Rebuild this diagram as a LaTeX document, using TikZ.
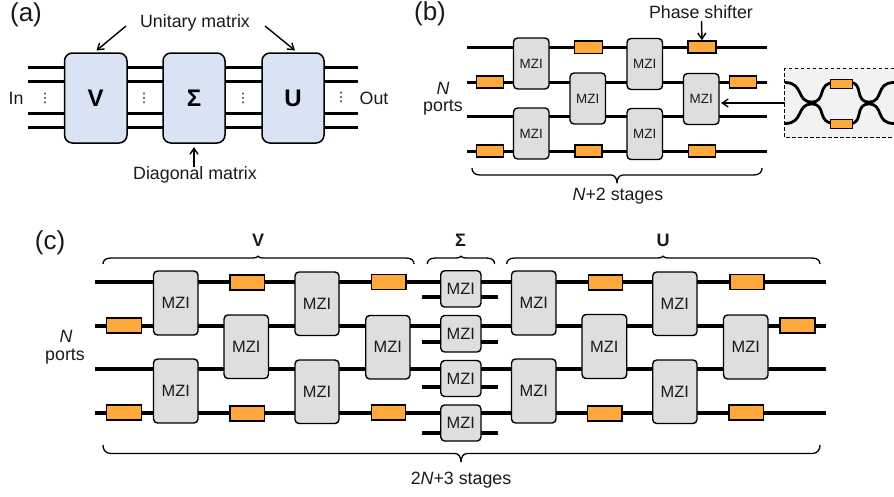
\documentclass[tikz,border=0pt]{standalone}
\usepackage{fontspec}
\setmainfont{Liberation Sans}
\newfontfamily\dvfont{DejaVu Sans}
\usetikzlibrary{arrows.meta}
\definecolor{bluebox}{HTML}{DAE3F3}
\definecolor{greybox}{HTML}{DEDEDE}
\definecolor{psorange}{HTML}{FFA93C}
\definecolor{insetbg}{HTML}{F2F2F2}
\definecolor{ink}{HTML}{1A1A1A}
\tikzset{
  wg/.style={line width=3.8pt,black},
  wgb/.style={line width=3pt,black},
  wgi/.style={line width=2.8pt,black},
  bl/.style={draw=black,line width=1.5pt,fill=bluebox,rounded corners=8pt,inner sep=0pt,text=black},
  mz/.style={draw=black,line width=1.4pt,fill=greybox,rounded corners=4pt,inner sep=0pt,text=ink},
  ps/.style={draw=black,line width=1.5pt,fill=psorange,inner sep=0pt},
  psi/.style={draw=black,line width=1pt,fill=psorange,inner sep=0pt},
  lab/.style={inner sep=0pt,text=ink,font=\fontsize{17.8}{20}\selectfont},
  pan/.style={inner sep=0pt,text=ink,font=\fontsize{26}{28}\selectfont},
  arr/.style={line width=1.4pt,black,-{Straight Barb[length=6pt,width=8pt,line width=1.4pt]}},
  brc/.style={line width=1.3pt,black,line join=round},
  vdots/.style={inner sep=0pt,font=\dvfont\fontsize{13}{14}\selectfont},
}
% name, x1, y1, x2, y2, style, text
\newcommand{\bx}[7]{%
  \pgfmathsetlengthmacro{\bw}{#4-#2}\pgfmathsetlengthmacro{\bh}{#5-#3}%
  \node[#6,minimum width=\bw,minimum height=\bh] (#1) at ({(#2+#4)/2},{(#3+#5)/2}) {#7};}
% x1, x2, xtip, ybase, yline, ytip
\newcommand{\brcpath}[6]{%
  \draw[brc] (#1,#4) .. controls (#1,{(#4+#5)/2}) and ({#1+2},#5) .. ({#1+8},#5)
    -- ({#3-6},#5) .. controls ({#3-2},#5) and (#3,{(#5+#6)/2}) .. (#3,#6)
    .. controls (#3,{(#5+#6)/2}) and ({#3+2},#5) .. ({#3+6},#5)
    -- ({#2-8},#5) .. controls ({#2-2},#5) and (#2,{(#4+#5)/2}) .. (#2,#4);}
\begin{document}
\begin{tikzpicture}[x=1pt,y=-1pt]
\useasboundingbox (0,0) rectangle (894,496);
% ---------- (a)
\node[pan] (pa) at (26,15) {(a)};
\foreach \y/\k in {67/a,81/b,113/c,127/d}{
  \coordinate (al\k) at (28,\y); \coordinate (ar\k) at (358,\y);
  \draw[wgb] (al\k) -- (ar\k);}
\bx{aV}{64.5}{53}{127}{143}{bl}{\fontsize{24}{26}\selectfont\bfseries V}
\bx{aS}{163}{53}{225}{143}{bl}{\fontsize{24}{26}\selectfont\bfseries Σ}
\bx{aU}{262}{53}{324}{143}{bl}{\fontsize{24}{26}\selectfont\bfseries U}
\node[vdots] (d1) at (45,98) {⋮};
\node[vdots] (d2) at (144,98) {⋮};
\node[vdots] (d3) at (243,98) {⋮};
\node[vdots] (d4) at (341,97) {⋮};
\node[lab] (in) at (16,98) {In};
\node[lab] (out) at (374,98) {Out};
\node[lab] (um) at (195,23) {Unitary matrix};
\node[lab] (dm) at (195,175) {Diagonal matrix};
\coordinate (um1) at (126,26); \coordinate (um2) at (96.5,50.5);
\coordinate (um3) at (265,26); \coordinate (um4) at (295,50.5);
\coordinate (dm1) at (194,167); \coordinate (dm2) at (194,147);
\draw[arr] (um1) -- (um2);
\draw[arr] (um3) -- (um4);
\draw[arr] (dm1) -- (dm2);
% ---------- (b)
\node[pan] (pb) at (430,14) {(b)};
\foreach \y/\k in {47/a,82/b,116/c,151/d}{
  \coordinate (bl\k) at (467,\y); \coordinate (br\k) at (767,\y);
  \draw[wgb] (bl\k) -- (br\k);}
\begin{scope}[every node/.append style={font=\fontsize{13.4}{15}\selectfont}]
\bx{bm1}{513.5}{38}{549}{89}{mz}{MZI}
\bx{bm2}{513.5}{108}{549}{159}{mz}{MZI}
\bx{bm3}{570}{73}{605.5}{124}{mz}{MZI}
\bx{bm4}{627}{38.5}{662.5}{89.5}{mz}{MZI}
\bx{bm5}{627}{108.5}{662.5}{159.5}{mz}{MZI}
\bx{bm6}{683.5}{73.5}{719}{124.5}{mz}{MZI}
\end{scope}
\bx{bp1}{574.5}{41}{602.5}{53.5}{ps}{}
\bx{bp2}{688}{41}{716}{53}{ps}{}
\bx{bp3}{476.5}{76}{503.5}{88}{ps}{}
\bx{bp4}{729.5}{76}{756.5}{88}{ps}{}
\bx{bp5}{476.5}{145}{503.5}{157}{ps}{}
\bx{bp6}{575}{145}{602}{157}{ps}{}
\bx{bp7}{688.5}{145}{715.5}{157}{ps}{}
\node[lab] (phs) at (701,12) {Phase shifter};
\coordinate (phs1) at (701.5,21);
\draw[arr] (phs1) -- (bp2.north);
\node[lab] (bN) at (443,88) {\itshape N};
\node[lab] (bports) at (443,108) {ports};
\brcpath{472}{762}{617}{168}{175}{183}
\node[lab] (bst) at (618,196) {\textit{N}+2 stages};
% inset
\fill[insetbg] (784.7,68.3) rectangle (894,137.7);
\draw[line width=1.3pt,dash pattern=on 3.5pt off 2.5pt]
  (900,68.3) -- (784.7,68.3) -- (784.7,137.7) -- (900,137.7);
\coordinate (ins) at (784.7,103);
\draw[arr] (ins) -- (721,103);
\draw[wgi]
  (785,82.5) .. controls (804,82.5) and (796,102) .. (811.7,102)
  .. controls (827,102) and (816,82.5) .. (835,82.5) -- (850,82.5)
  .. controls (864,82.5) and (854,102) .. (869,102)
  .. controls (884,102) and (875,82.5) .. (894,82.5);
\draw[wgi]
  (785,123.5) .. controls (804,123.5) and (796,104) .. (811.7,104)
  .. controls (827,104) and (816,123.5) .. (835,123.5) -- (850,123.5)
  .. controls (864,123.5) and (854,104) .. (869,104)
  .. controls (884,104) and (875,123.5) .. (894,123.5);
\bx{ip1}{830.5}{79}{852}{88}{psi}{}
\bx{ip2}{830.5}{119}{852}{128}{psi}{}
% ---------- (c)
\node[pan] (pc) at (50,243) {(c)};
\foreach \y/\k in {282/a,325.7/b,368.7/c,412.7/d}{
  \coordinate (cl\k) at (95,\y); \coordinate (cr\k) at (826,\y);
  \draw[wg] (cl\k) -- (cr\k);}
\foreach \y/\k in {297.3/a,342/b,387.3/c,432.7/d}{
  \coordinate (sl\k) at (422,\y); \coordinate (sr\k) at (498,\y);
  \draw[wg] (sl\k) -- (sr\k);}
\begin{scope}[every node/.append style={font=\fontsize{16.4}{18}\selectfont}]
\bx{m1}{153.5}{271}{198}{335}{mz}{MZI}
\bx{m2}{153.5}{359}{198}{423}{mz}{MZI}
\bx{m3}{224}{315}{268.5}{378.5}{mz}{MZI}
\bx{m4}{295}{272}{339}{335.5}{mz}{MZI}
\bx{m5}{295}{360}{339}{423.5}{mz}{MZI}
\bx{m6}{365.7}{315.5}{410}{379}{mz}{MZI}
\bx{s1}{440.7}{270.7}{481}{307}{mz}{MZI}
\bx{s2}{440.7}{315.5}{481}{352}{mz}{MZI}
\bx{s3}{440.7}{360.5}{481}{396.5}{mz}{MZI}
\bx{s4}{440.7}{405}{481}{441}{mz}{MZI}
\bx{u1}{511.5}{271}{556}{335}{mz}{MZI}
\bx{u2}{511.5}{359}{556}{423}{mz}{MZI}
\bx{u3}{582}{314.5}{626.7}{378.5}{mz}{MZI}
\bx{u4}{652.7}{272}{697}{335.5}{mz}{MZI}
\bx{u5}{652.7}{360}{697}{423.5}{mz}{MZI}
\bx{u6}{723.5}{315}{768}{379}{mz}{MZI}
\end{scope}
\bx{p1}{230}{275}{264.3}{290}{ps}{}
\bx{p2}{371.7}{274.5}{406}{289.5}{ps}{}
\bx{p3}{106.7}{318}{141.7}{333}{ps}{}
\bx{p4}{106.7}{405}{141.7}{420}{ps}{}
\bx{p5}{230}{406}{264.3}{421}{ps}{}
\bx{p6}{371.5}{405}{405.7}{420}{ps}{}
\bx{p7}{588.3}{275}{622.5}{290}{ps}{}
\bx{p8}{730}{274.5}{764}{289.5}{ps}{}
\bx{p9}{780}{318}{815}{333}{ps}{}
\bx{p10}{587.7}{406}{622}{421}{ps}{}
\bx{p11}{729}{405}{763.3}{420}{ps}{}
\node[lab] (cN) at (66,336) {\itshape N};
\node[lab] (cports) at (65,357) {ports};
\brcpath{103}{414}{258}{264}{258}{256}
\brcpath{427.3}{494.6}{461}{264}{258}{256}
\brcpath{506.7}{820}{663}{264}{258}{256}
\brcpath{103}{820}{461}{445}{453.5}{462}
\node[lab,font=\fontsize{18}{20}\selectfont\bfseries] (cV) at (258,240.5) {V};
\node[lab,font=\fontsize{18}{20}\selectfont\bfseries] (cS) at (460.5,240.5) {Σ};
\node[lab,font=\fontsize{18}{20}\selectfont\bfseries] (cU) at (663,240.5) {U};
\node[lab] (cst) at (461,480) {2\textit{N}+3 stages};
\end{tikzpicture}
\end{document}
